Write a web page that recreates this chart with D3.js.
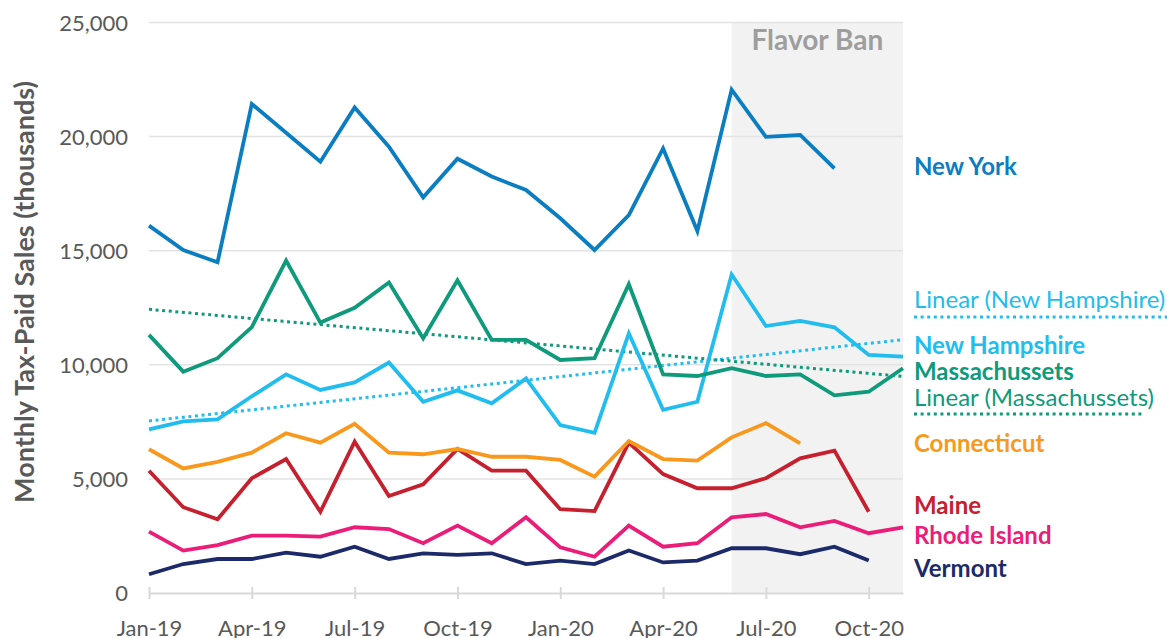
<!DOCTYPE html>
<html>
<head>
<meta charset="utf-8">
<script src="https://cdn.jsdelivr.net/npm/d3@7"></script>
<style>
    body { margin: 0; background: #fff; }
    svg { display: block; font-family: Lato, "Open Sans", sans-serif; }
</style>
</head>
<body>
<div id="chart"></div>
<script>
//month categories, Jan-19 to Nov-20
var months = ["Jan-19","Feb-19","Mar-19","Apr-19","May-19","Jun-19","Jul-19","Aug-19","Sep-19","Oct-19","Nov-19","Dec-19",
              "Jan-20","Feb-20","Mar-20","Apr-20","May-20","Jun-20","Jul-20","Aug-20","Sep-20","Oct-20","Nov-20"];
var tickMonths = ["Jan-19","Apr-19","Jul-19","Oct-19","Jan-20","Apr-20","Jul-20","Oct-20"];
var yTicks = [0, 5000, 10000, 15000, 20000, 25000];

//monthly tax-paid sales (thousands)
var newYork      = [16100,15030,14490,21430,20170,18900,21280,19560,17340,19030,18250,17660,16420,15030,16560,19480,15860,22060,19990,20070,18610];
var massachusets = [11310,9700,10290,11650,14570,11850,12500,13610,11160,13700,11090,11090,10210,10290,13530,9580,9510,9850,9510,9580,8660,8820,9850];
var newHampshire = [7170,7520,7610,8620,9580,8900,9230,10100,8380,8880,8310,9400,7360,7020,11380,8030,8380,13960,11700,11920,11640,10430,10360];
var connecticut  = [6300,5460,5750,6150,7000,6590,7410,6150,6080,6310,5970,5970,5830,5100,6660,5870,5800,6820,7440,6560];
var maine        = [5360,3760,3230,5030,5870,3560,6630,4250,4760,6310,5360,5360,3670,3590,6590,5210,4590,4590,5030,5900,6240,3560];
var rhodeIsland  = [2690,1860,2100,2510,2510,2470,2880,2800,2180,2950,2180,3320,2000,1590,2950,2030,2180,3320,3460,2880,3160,2620,2880];
var vermont      = [820,1270,1490,1490,1770,1590,2030,1490,1740,1670,1740,1270,1420,1270,1860,1340,1420,1960,1960,1700,2030,1420];

//linear trend end points (Jan-19, Nov-20)
var nhTrend = [7540, 11100];
var maTrend = [12430, 9490];

//flavor ban period
var banMonths = ["Jun-20", "Nov-20"];

(function(){

    var width = 1167, height = 638;
    var left = 149, right = 903, top = 22.5, bottom = 593;
    var font = "Lato, 'Open Sans', sans-serif";

    var series = [
        {name: "New York",      values: newYork,      color: "#0B7DC1", labelY: 167},
        {name: "Massachussets", values: massachusets, color: "#0E9A7B", labelY: 372},
        {name: "New Hampshire", values: newHampshire, color: "#21BDEE", labelY: 346},
        {name: "Connecticut",   values: connecticut,  color: "#F8991D", labelY: 444},
        {name: "Maine",         values: maine,        color: "#C6202E", labelY: 506},
        {name: "Rhode Island",  values: rhodeIsland,  color: "#EC1C79", labelY: 536},
        {name: "Vermont",       values: vermont,      color: "#1C2A6A", labelY: 569}
    ];

    var trends = [
        {name: "Linear (New Hampshire)", values: nhTrend, color: "#21BDEE", labelY: 300, lineY: 317, lineEnd: 1167},
        {name: "Linear (Massachussets)", values: maTrend, color: "#0E9A7B", labelY: 398, lineY: 414, lineEnd: 1145}
    ];

    var x = d3.scalePoint()
        .domain(months)
        .range([left, right]);

    var y = d3.scaleLinear()
        .domain([0, 25000])
        .range([bottom, top]);

    var svg = d3.select("#chart")
        .append("svg")
        .attr("width", width)
        .attr("height", height);

    //flavor ban shading
    svg.append("rect")
        .attr("x", x(banMonths[0]))
        .attr("y", top)
        .attr("width", x(banMonths[1]) - x(banMonths[0]))
        .attr("height", bottom - top)
        .attr("fill", "#F2F2F2");

    svg.append("text")
        .attr("x", (x(banMonths[0]) + x(banMonths[1])) / 2)
        .attr("y", 50)
        .attr("text-anchor", "middle")
        .attr("font-size", 28)
        .attr("font-weight", "bold")
        .attr("fill", "#9E9E9E")
        .text("Flavor Ban");

    //gridlines
    svg.append("g")
        .selectAll("line")
        .data(yTicks.filter(function(d){ return d > 0; }))
        .join("line")
        .attr("x1", left)
        .attr("x2", right)
        .attr("y1", function(d){ return y(d); })
        .attr("y2", function(d){ return y(d); })
        .attr("stroke", "#E3E3E3")
        .attr("stroke-width", 1.5);

    //y axis labels
    var yAxis = svg.append("g")
        .attr("transform", "translate(" + (left - 21) + ",0)")
        .call(d3.axisLeft(y).tickValues(yTicks).tickSize(0).tickFormat(d3.format(",")));
    yAxis.select(".domain").remove();
    yAxis.selectAll("text")
        .attr("x", 0)
        .attr("dy", "0.35em")
        .style("font-family", font)
        .style("font-size", "22px")
        .attr("fill", "#595959");

    //x axis
    var xAxis = svg.append("g")
        .attr("transform", "translate(0," + bottom + ")")
        .call(d3.axisBottom(x).tickValues(tickMonths).tickSizeInner(6).tickSizeOuter(0).tickPadding(21));
    xAxis.select(".domain")
        .attr("stroke", "#D9D9D9")
        .attr("stroke-width", 2);
    xAxis.selectAll(".tick line")
        .attr("y1", -6)
        .attr("stroke", "#D9D9D9")
        .attr("stroke-width", 2);
    xAxis.selectAll("text")
        .style("font-family", font)
        .style("font-size", "22px")
        .attr("fill", "#595959");

    //y axis title
    svg.append("text")
        .attr("transform", "translate(34,292) rotate(-90)")
        .attr("text-anchor", "middle")
        .attr("font-size", 27)
        .attr("font-weight", "bold")
        .attr("fill", "#595959")
        .text("Monthly Tax-Paid Sales (thousands)");

    //trend lines
    trends.forEach(function(t){
        svg.append("line")
            .attr("x1", x(months[0]))
            .attr("x2", x(months[months.length - 1]))
            .attr("y1", y(t.values[0]))
            .attr("y2", y(t.values[1]))
            .attr("stroke", t.color)
            .attr("stroke-width", 3)
            .attr("stroke-dasharray", "3,3.6");
    });

    //series lines
    var line = d3.line()
        .x(function(d, i){ return x(months[i]); })
        .y(function(d){ return y(d); });

    series.slice().reverse().forEach(function(s){
        svg.append("path")
            .datum(s.values)
            .attr("d", line)
            .attr("fill", "none")
            .attr("stroke", s.color)
            .attr("stroke-width", 3.8)
            .attr("stroke-linejoin", "miter");
    });

    //labels
    var labelX = 914;
    series.forEach(function(s){
        svg.append("text")
            .attr("x", labelX)
            .attr("y", s.labelY)
            .attr("dy", "0.35em")
            .attr("font-size", 24)
            .attr("font-weight", "bold")
            .attr("fill", s.color)
            .text(s.name);
    });
    trends.forEach(function(t){
        svg.append("text")
            .attr("x", labelX)
            .attr("y", t.labelY)
            .attr("dy", "0.35em")
            .attr("font-size", 24)
            .attr("fill", t.color)
            .text(t.name);
        svg.append("line")
            .attr("x1", labelX)
            .attr("x2", t.lineEnd)
            .attr("y1", t.lineY)
            .attr("y2", t.lineY)
            .attr("stroke", t.color)
            .attr("stroke-width", 3)
            .attr("stroke-dasharray", "3,3.6");
    });

})()
</script>
</body>
</html>
